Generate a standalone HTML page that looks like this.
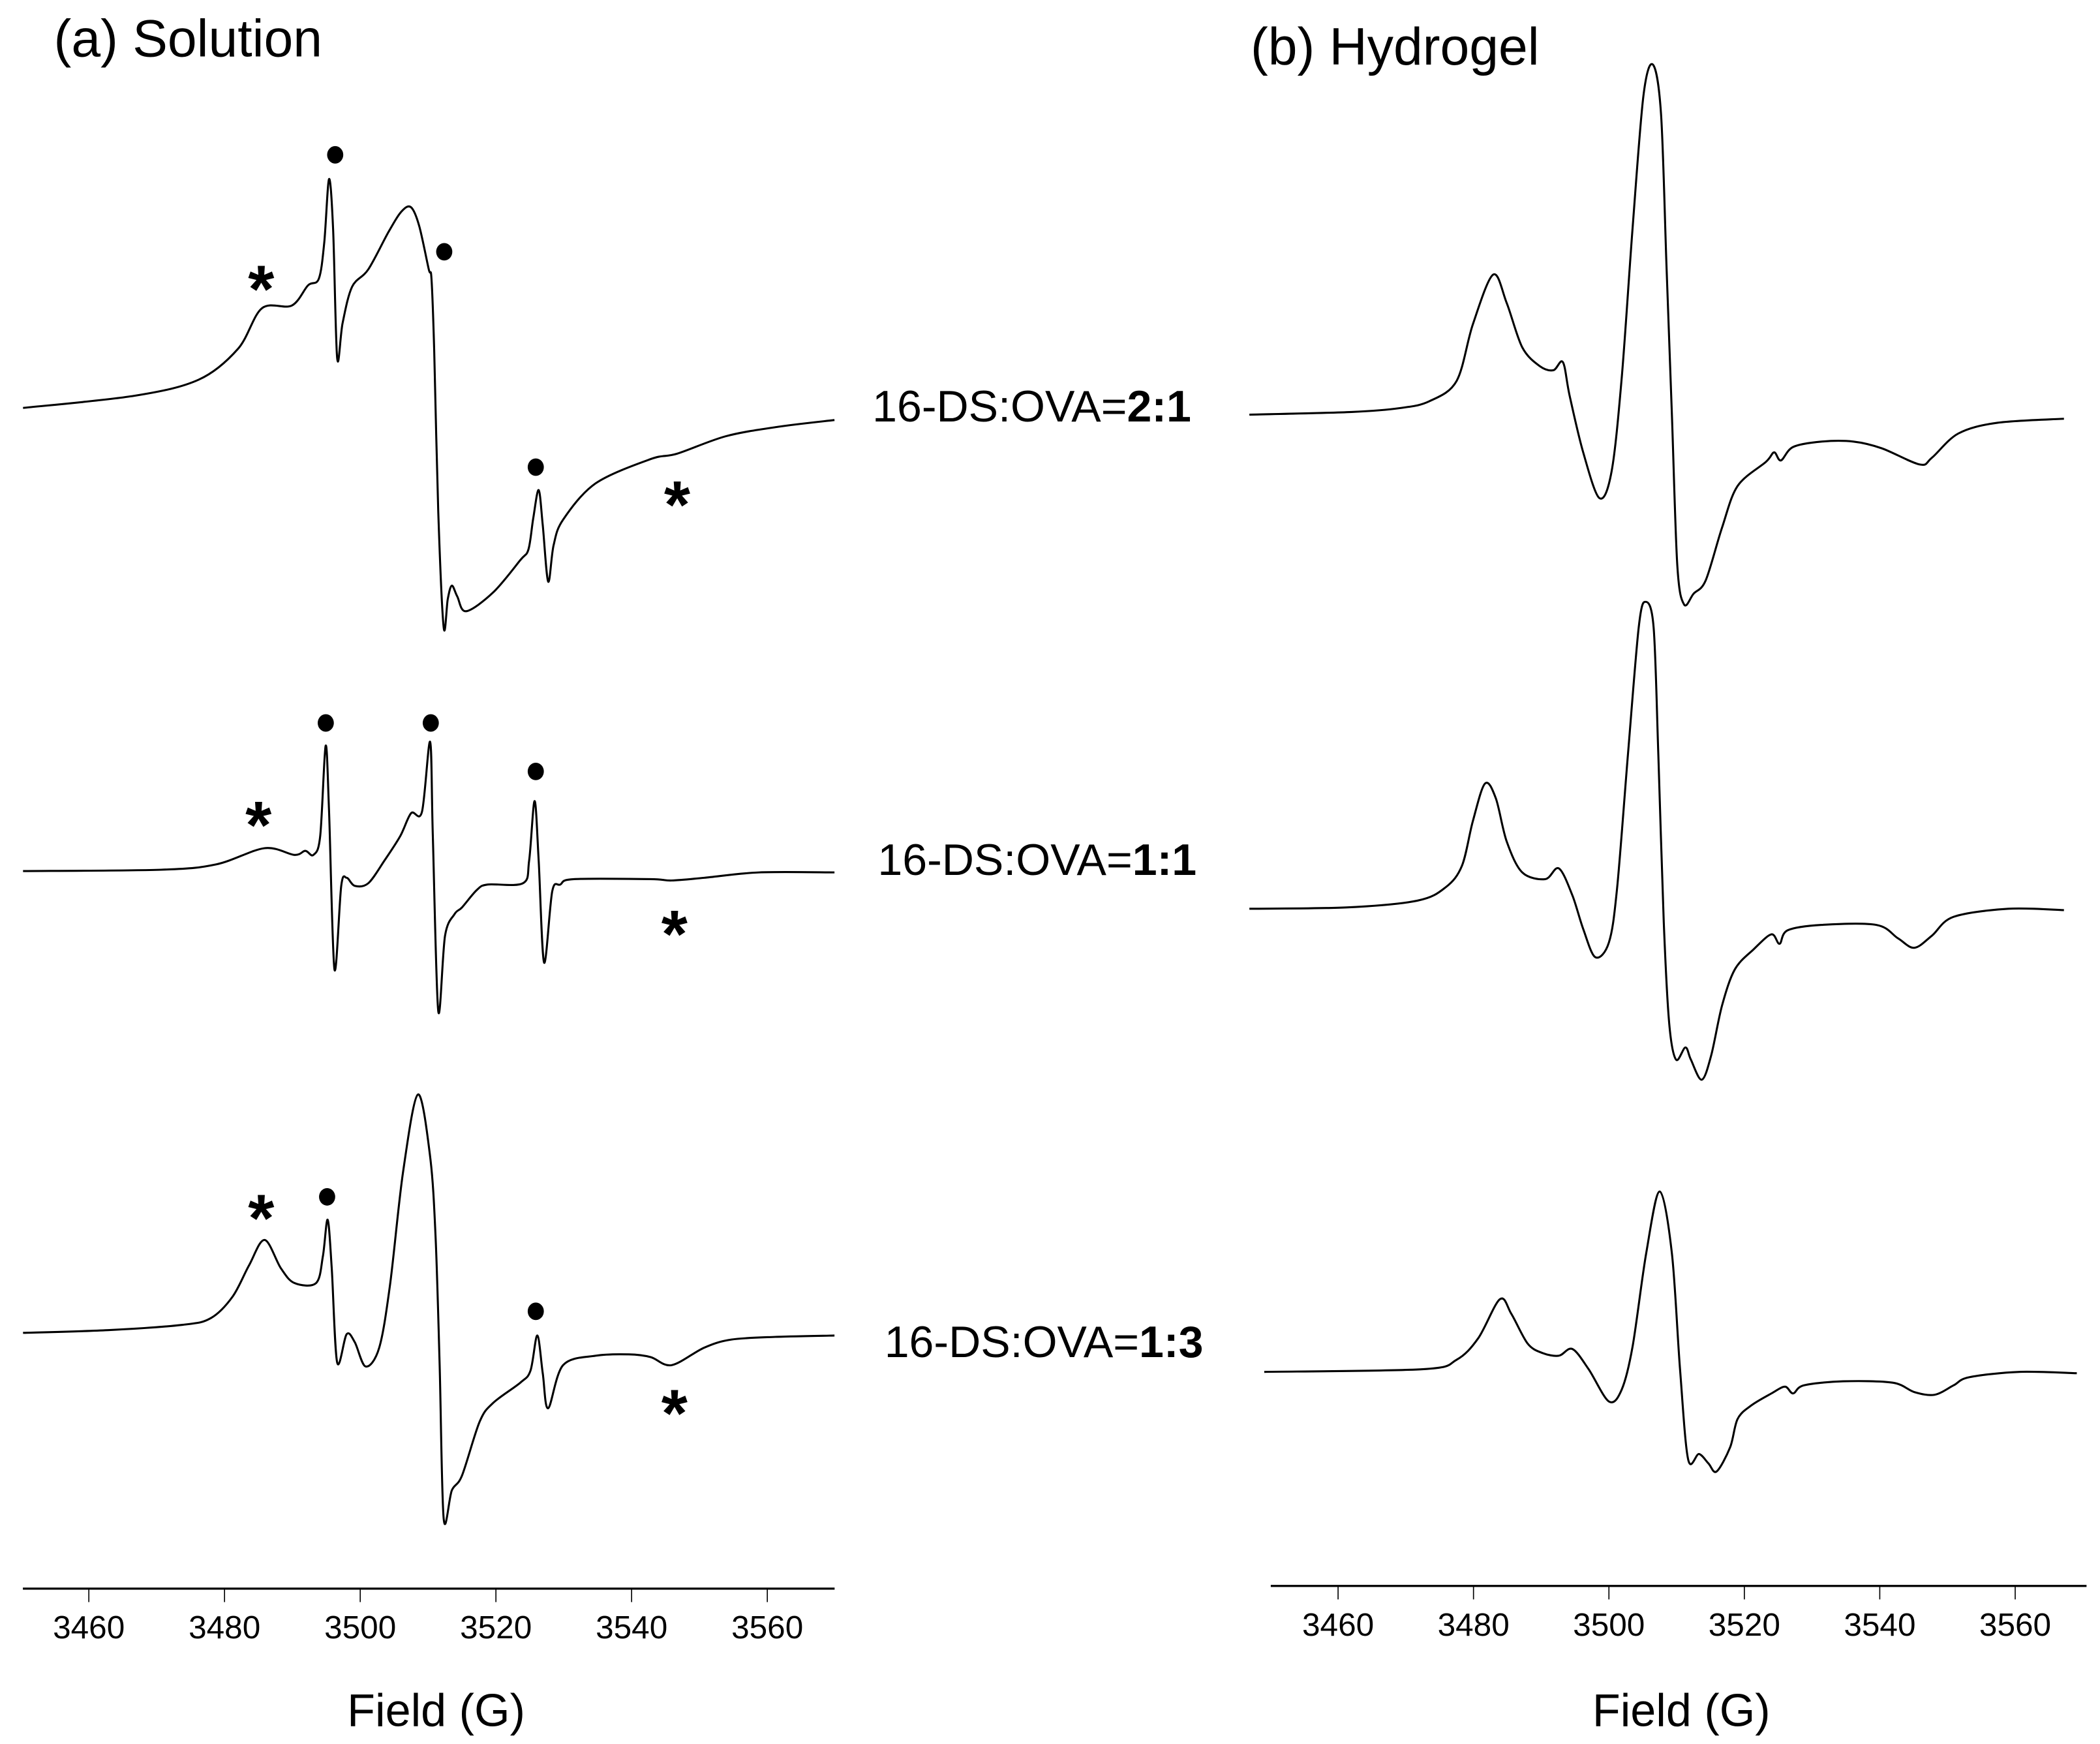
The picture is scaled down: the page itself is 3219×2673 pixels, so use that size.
<!DOCTYPE html>
<html><head><meta charset="utf-8"><style>
html,body{margin:0;padding:0;background:#fff;}
svg{display:block;}
text{font-family:"Liberation Sans",Arial,sans-serif;fill:#000;}
</style></head><body>
<svg id="chart" xmlns="http://www.w3.org/2000/svg" width="3219" height="2673" viewBox="0 0 1560 1295.4" preserveAspectRatio="none">
<rect x="0" y="0" width="1560" height="1295.4" fill="#fff"/>
<text x="40" y="42" font-size="39">(a) Solution</text>
<text x="929" y="48" font-size="39">(b) Hydrogel</text>
<text x="648" y="313" font-size="33">16-DS:OVA=<tspan font-weight="bold">2:1</tspan></text>
<text x="652" y="650" font-size="33">16-DS:OVA=<tspan font-weight="bold">1:1</tspan></text>
<text x="657" y="1008" font-size="33">16-DS:OVA=<tspan font-weight="bold">1:3</tspan></text>
<text x="324" y="1282" font-size="34" text-anchor="middle">Field (G)</text>
<text x="1249" y="1282" font-size="34" text-anchor="middle">Field (G)</text>
<g id="layer"></g>
</svg>
<script>
const ticks = [3460, 3480, 3500, 3520, 3540, 3560];
const fieldA1 = [3450.3,3466.7,3476.2,3482.0,3485.5,3489.9,3492.3,3493.9,3494.7,3495.4,3496.0,3496.6,3497.4,3498.8,3501.2,3504.2,3506.1,3507.5,3508.7,3510.1,3510.5,3510.9,3511.5,3512.3,3512.9,3513.5,3514.3,3515.6,3519.6,3523.6,3524.8,3525.5,3526.3,3526.9,3527.7,3528.5,3529.9,3534.7,3542.8,3546.7,3553.9,3561.6,3569.9];
const intA1 = [0,9,21,44,74,76,91,96,123,170,133,37,63,90,103,131,146,149,135,103,96,43,-77,-163,-142,-132,-140,-151,-137,-113,-105,-82,-61,-87,-129,-102,-83,-56,-38,-34,-21,-14,-9];
const fieldA2 = [3450.3,3470.7,3478.8,3485.9,3490.3,3491.9,3493.1,3494.1,3494.9,3495.4,3496.2,3497.2,3498.0,3499.2,3501.2,3503.6,3505.9,3507.5,3509.1,3510.3,3510.7,3511.5,3512.5,3513.9,3515.0,3517.2,3518.8,3524.0,3524.9,3525.7,3526.3,3527.1,3528.3,3529.5,3531.5,3542.8,3545.9,3550.7,3558.8,3569.9];
const intA2 = [0,1,5,17,12,15,12,26,93,45,-73,-11,-5,-11,-9,8,26,43,44,96,26,-104,-48,-32,-27,-14,-10,-9,8,52,8,-68,-15,-10,-6,-6,-7,-5,-1,-1];
const fieldA3 = [3450.3,3462.8,3473.9,3478.0,3481.2,3483.6,3485.9,3488.3,3490.3,3493.5,3494.5,3495.2,3495.8,3496.6,3498.0,3499.2,3500.8,3502.8,3504.4,3506.3,3508.5,3510.3,3511.1,3511.7,3512.3,3513.5,3515.0,3517.6,3519.6,3523.6,3525.1,3526.1,3526.9,3527.7,3529.9,3534.7,3539.6,3542.8,3545.9,3550.7,3554.7,3561.2,3569.9];
const intA3 = [0,2,6,11,27,50,69,48,37,37,57,84,48,-22,-1,-7,-25,-11,36,119,177,131,72,-23,-138,-117,-106,-66,-52,-37,-28,-2,-30,-56,-24,-17,-16,-18,-24,-11,-5,-3,-2];
const fieldB1 = [3446.9,3462.0,3469.3,3473.5,3477.5,3479.9,3482.9,3484.9,3487.2,3489.8,3491.8,3493.2,3494.2,3496.2,3498.6,3500.4,3501.9,3503.5,3505.1,3506.5,3507.7,3508.5,3509.3,3510.1,3511.1,3512.5,3514.3,3516.7,3519.0,3523.2,3524.4,3525.4,3527.2,3531.4,3536.1,3540.3,3545.9,3547.7,3551.6,3557.4,3567.2];
const intB1 = [0,2,5,10,25,67,104,83,50,36,33,39,14,-28,-62,-42,28,139,237,260,223,111,0,-112,-141,-133,-123,-84,-53,-35,-28,-34,-24,-20,-20,-25,-37,-32,-14,-6,-3];
const fieldB2 = [3446.9,3461.2,3471.7,3475.9,3478.3,3479.9,3481.7,3483.3,3484.9,3487.2,3490.6,3492.6,3494.6,3496.2,3498.0,3500.0,3501.2,3502.8,3504.4,3505.4,3506.6,3507.3,3508.1,3508.9,3509.9,3511.3,3512.1,3513.7,3515.1,3516.7,3518.6,3521.4,3524.0,3525.2,3526.4,3531.4,3539.5,3542.7,3545.1,3547.7,3550.9,3559.0,3567.2];
const intB2 = [0,1,6,16,32,65,93,82,50,27,22,30,10,-15,-36,-25,15,114,209,228,209,114,-10,-85,-112,-103,-112,-127,-109,-72,-45,-30,-19,-26,-16,-12,-12,-22,-29,-20,-6,0,-1];
const fieldB3 = [3449.1,3472.5,3477.5,3480.7,3483.9,3485.6,3488.0,3490.2,3492.6,3494.6,3497.0,3500.0,3501.9,3503.5,3505.5,3507.5,3509.3,3510.5,3511.7,3513.3,3514.7,3515.9,3517.9,3519.0,3521.0,3524.0,3526.0,3527.2,3528.8,3534.6,3541.9,3545.1,3548.1,3550.9,3553.2,3560.6,3569.1];
const intB3 = [0,2,9,25,54,43,21,14,12,17,2,-22,-13,19,88,134,88,2,-65,-61,-68,-74,-56,-35,-25,-16,-11,-16,-10,-7,-8,-15,-17,-10,-4,0,-1];

const NS = 'http://www.w3.org/2000/svg';
const layer = document.getElementById('layer');
function xA(g){ return 66 + (g - 3460) * 5.04; }
function xB(g){ return 994 + (g - 3460) * 5.03; }
function mk(tag, attrs){ const e = document.createElementNS(NS, tag); for (const k in attrs) e.setAttribute(k, attrs[k]); layer.appendChild(e); return e; }

function curvePath(xs, ys){
  let d = 'M' + xs[0].toFixed(2) + ',' + ys[0].toFixed(2);
  for (let i = 0; i < xs.length - 1; i++){
    const x0 = xs[Math.max(i-1,0)], y0 = ys[Math.max(i-1,0)];
    const x1 = xs[i], y1 = ys[i], x2 = xs[i+1], y2 = ys[i+1];
    const x3 = xs[Math.min(i+2,xs.length-1)], y3 = ys[Math.min(i+2,xs.length-1)];
    const t = 0.16;
    d += ' C' + (x1 + (x2-x0)*t).toFixed(2) + ',' + (y1 + (y2-y0)*t).toFixed(2) + ' ' +
         (x2 - (x3-x1)*t).toFixed(2) + ',' + (y2 - (y3-y1)*t).toFixed(2) + ' ' + x2.toFixed(2) + ',' + y2.toFixed(2);
  }
  return d;
}
function drawSpectrum(fields, vals, xf, base, name){
  const xs = fields.map(xf), ys = vals.map(v => base - v);
  const p = mk('path', {d: curvePath(xs, ys), fill: 'none', stroke: '#000', 'stroke-width': 1.5, 'stroke-linejoin': 'round'});
  
  
}
drawSpectrum(fieldA1, intA1, xA, 303, 'spectrum-solution-2-1');
drawSpectrum(fieldA2, intA2, xA, 647, 'spectrum-solution-1-1');
drawSpectrum(fieldA3, intA3, xA, 990, 'spectrum-solution-1-3');
drawSpectrum(fieldB1, intB1, xB, 308, 'spectrum-hydrogel-2-1');
drawSpectrum(fieldB2, intB2, xB, 675, 'spectrum-hydrogel-1-1');
drawSpectrum(fieldB3, intB3, xB, 1019, 'spectrum-hydrogel-1-3');

function drawAxis(xf, x0, x1, y, suffix){
  const ax = mk('line', {x1: x0, x2: x1, y1: y, y2: y, stroke: '#000', 'stroke-width': 1.6});
  
  
  ticks.forEach(t => {
    const tx = xf(t);
    const tl = mk('line', {x1: tx, x2: tx, y1: y, y2: y + 10, stroke: '#000', 'stroke-width': 0.8});
    
    
    const lb = mk('text', {x: tx, y: y + 37, 'font-size': 24, 'text-anchor': 'middle'});
    lb.textContent = t;
    
    
  });
}
drawAxis(xA, 17, 620, 1180, 'a');
drawAxis(xB, 944, 1550, 1178, 'b');

const dots = [[249,115],[330,187],[398,347],[242,537],[320,537],[398,573],[243,889],[398,974]];
dots.forEach(d => {
  const c = mk('ellipse', {cx: d[0], cy: d[1], rx: 6, ry: 6.5, fill: '#000'});
  
  
});
const stars = [[194,207],[503,367],[192,605],[501,686],[194,897],[501,1042]];
stars.forEach(s => {
  const t = mk('text', {x: s[0], y: s[1] + 25, 'font-size': 50, 'font-weight': 'bold', 'text-anchor': 'middle'});
  t.textContent = '*';
  
  
});
</script>
</body></html>
